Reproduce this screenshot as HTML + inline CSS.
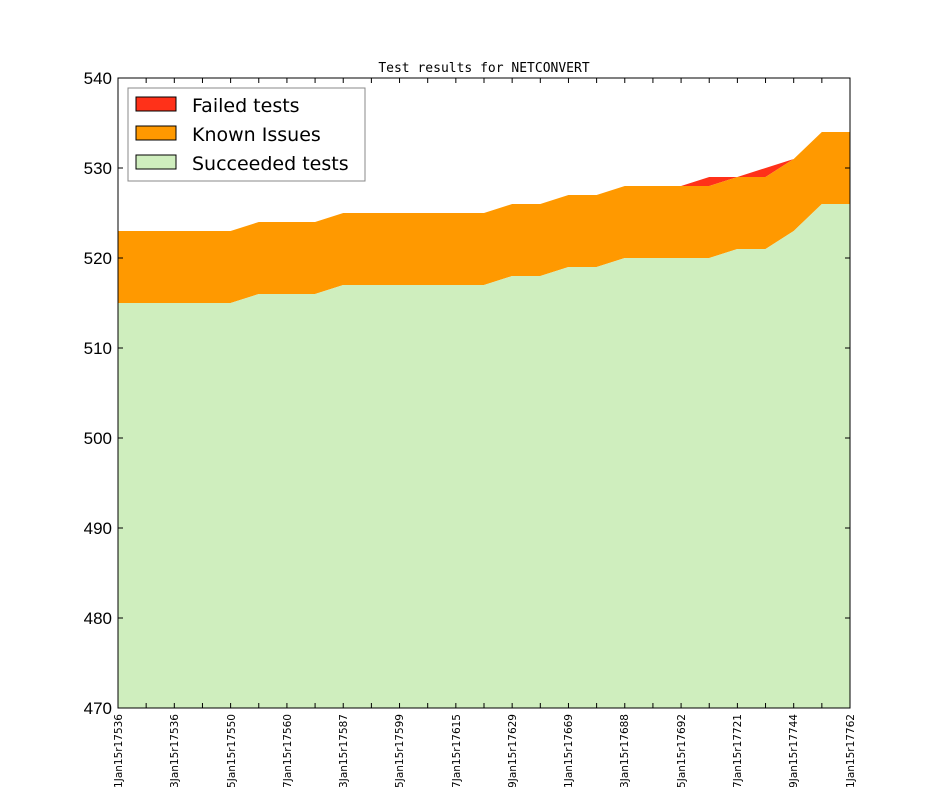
<!DOCTYPE html>
<html><head><meta charset="utf-8"><style>body{margin:0;background:#fff}svg{display:block}</style></head>
<body>
<svg id="s" width="944" height="787" xmlns="http://www.w3.org/2000/svg" font-family="DejaVu Sans, Liberation Sans, sans-serif">
<rect width="944" height="787" fill="#fff"/>
<g id="areas"></g>
<rect x="118" y="78" width="732" height="630" fill="none" stroke="#000" stroke-width="1"/>
<g id="ticks" stroke="#000" stroke-width="1"></g>
<text x="484" y="72" font-family="DejaVu Sans Mono, Liberation Mono, monospace" font-size="13" text-anchor="middle">Test results for NETCONVERT</text>
<g font-size="17" text-anchor="end" font-family="Liberation Sans, sans-serif">
<text x="112" y="714">470</text><text x="112" y="624">480</text><text x="112" y="534">490</text><text x="112" y="444">500</text><text x="112" y="354">510</text><text x="112" y="264">520</text><text x="112" y="174">530</text><text x="112" y="84">540</text>
</g>
<g font-size="10.5" text-anchor="end">
<text transform="translate(122,714) rotate(-90)">01Jan15r17536</text>
<text transform="translate(178,714) rotate(-90)">03Jan15r17536</text>
<text transform="translate(235,714) rotate(-90)">05Jan15r17550</text>
<text transform="translate(291,714) rotate(-90)">07Jan15r17560</text>
<text transform="translate(347,714) rotate(-90)">13Jan15r17587</text>
<text transform="translate(403,714) rotate(-90)">15Jan15r17599</text>
<text transform="translate(460,714) rotate(-90)">17Jan15r17615</text>
<text transform="translate(516,714) rotate(-90)">19Jan15r17629</text>
<text transform="translate(572,714) rotate(-90)">21Jan15r17669</text>
<text transform="translate(628,714) rotate(-90)">23Jan15r17688</text>
<text transform="translate(685,714) rotate(-90)">25Jan15r17692</text>
<text transform="translate(741,714) rotate(-90)">27Jan15r17721</text>
<text transform="translate(797,714) rotate(-90)">29Jan15r17744</text>
<text transform="translate(854,714) rotate(-90)">31Jan15r17762</text>
</g>
<rect x="128" y="88" width="237" height="93" fill="#fff" stroke="#888" stroke-width="1"/>
<rect x="136" y="97" width="40" height="14" fill="#ff3119" stroke="#000"/>
<rect x="136" y="126" width="40" height="14" fill="#ff9900" stroke="#000"/>
<rect x="136" y="155" width="40" height="14" fill="#cfeebe" stroke="#000"/>
<g font-size="19">
<text x="192" y="112">Failed tests</text>
<text x="192" y="141">Known Issues</text>
<text x="192" y="170">Succeeded tests</text>
</g>
</svg>
<script>
var S=[515,515,515,515,515,516,516,516,517,517,517,517,517,517,518,518,519,519,520,520,520,520,521,521,523,526,526];
var K=[523,523,523,523,523,524,524,524,525,525,525,525,525,525,526,526,527,527,528,528,528,528,529,529,531,534,534];
var F=K.slice();F[21]=529;F[22]=529;F[23]=530;
function X(i){return 118+732*i/26}function Y(v){return 708-9*(v-470)}
function poly(top,bot,col){var p=[];for(var i=0;i<27;i++)p.push(X(i)+','+Y(top[i]));for(var i=26;i>=0;i--)p.push(X(i)+','+(bot?Y(bot[i]):708));return '<polygon points="'+p.join(' ')+'" fill="'+col+'"/>';}
document.getElementById('areas').innerHTML=poly(F,K,'#ff3119')+poly(K,S,'#ff9900')+poly(S,null,'#cfeebe');
var t='';for(var i=0;i<27;i++){var x=X(i);t+='<line x1="'+x+'" y1="708" x2="'+x+'" y2="703"/><line x1="'+x+'" y1="78" x2="'+x+'" y2="83"/>';}
for(var v=470;v<=540;v+=10){var y=Y(v);t+='<line x1="118" y1="'+y+'" x2="123" y2="'+y+'"/><line x1="850" y1="'+y+'" x2="845" y2="'+y+'"/>';}
document.getElementById('ticks').innerHTML=t;
</script>
</body></html>
